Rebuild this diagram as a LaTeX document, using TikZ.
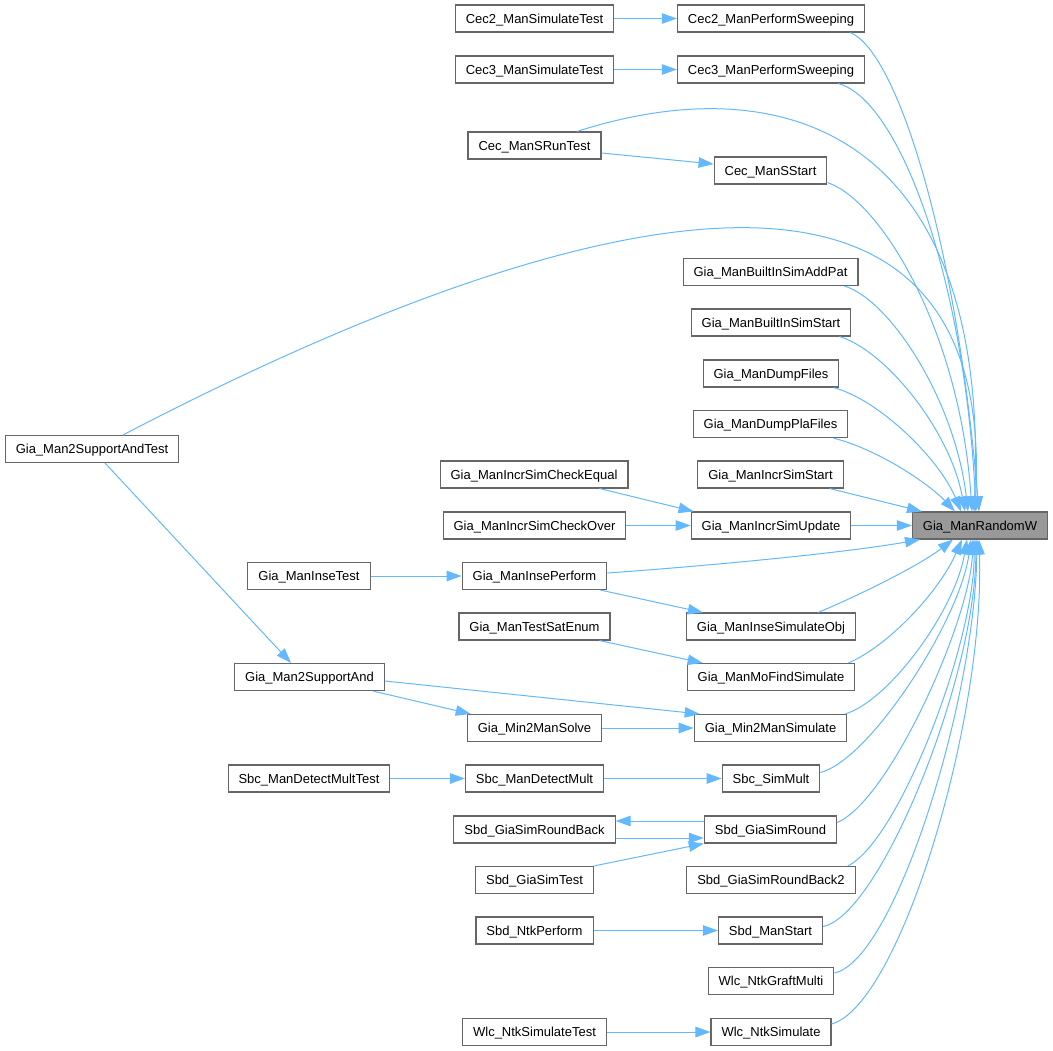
\documentclass[tikz,border=0pt]{standalone}
\usepackage{fontspec}
\setmainfont{Liberation Sans}
\usepackage{tikz}
\usetikzlibrary{arrows.meta,positioning}
\definecolor{edgeblue}{HTML}{63B8FF}
\definecolor{boxgray}{HTML}{666666}
\definecolor{rootgray}{HTML}{999999}

\begin{document}
\begin{tikzpicture}[
			x=1pt, y=-1pt,
			>={Triangle[length=15pt,width=10.5pt]},
			font=\fontsize{13}{15}\selectfont,
			func/.style={
				rectangle,
				draw=boxgray,
				line width=1.1pt,
				fill=white,
				minimum height=27pt,
				inner xsep=10.5pt,
				inner ysep=0pt,
				text height=9.4pt,
				text depth=0pt
			},
			root/.style={
				func,
				fill=rootgray
			},
			call/.style={
				draw=edgeblue,
				line width=1pt,
				->
			}
			]
			\useasboundingbox (0,0) rectangle (1053,1051);
			% the functions, column by column

			\node [root] (root) at (980,525.5) {Gia\_ManRandomW};

			\node [func] (c2sim) at (534.5,18.5) {Cec2\_ManSimulateTest};
			\node [func] (c2sweep) at (771,18.5) {Cec2\_ManPerformSweeping};
			\node [func] (c3sim) at (534.5,69.5) {Cec3\_ManSimulateTest};
			\node [func] (c3sweep) at (771,69.5) {Cec3\_ManPerformSweeping};
			\node [func] (srun) at (534.5,145.5) {Cec\_ManSRunTest};
			\node [func] (sstart) at (770.5,170.5) {Cec\_ManSStart};

			\node [func] (supptest) at (92,449) {Gia\_Man2SupportAndTest};
			\node [func] (addpat) at (770.5,272) {Gia\_ManBuiltInSimAddPat};
			\node [func] (simstart) at (771,322.5) {Gia\_ManBuiltInSimStart};
			\node [func] (dumpf) at (771,373.5) {Gia\_ManDumpFiles};
			\node [func] (dumppla) at (770.5,424) {Gia\_ManDumpPlaFiles};
			\node [func] (incrstart) at (770.5,474.5) {Gia\_ManIncrSimStart};
			\node [func] (checkeq) at (534,474.5) {Gia\_ManIncrSimCheckEqual};
			\node [func] (checkov) at (534.5,525.5) {Gia\_ManIncrSimCheckOver};
			\node [func] (incrupd) at (771,525.5) {Gia\_ManIncrSimUpdate};

			\node [func] (insetest) at (309,576) {Gia\_ManInseTest};
			\node [func] (inseperf) at (534.5,576) {Gia\_ManInsePerform};
			\node [func] (satenum) at (534.5,626.5) {Gia\_ManTestSatEnum};
			\node [func] (insesim) at (771,626.5) {Gia\_ManInseSimulateObj};
			\node [func] (suppand) at (309.5,677) {Gia\_Man2SupportAnd};
			\node [func] (mofind) at (771,677) {Gia\_ManMoFindSimulate};
			\node [func] (min2solve) at (534.5,728) {Gia\_Min2ManSolve};
			\node [func] (min2sim) at (770.5,728) {Gia\_Min2ManSimulate};

			\node [func] (dmtest) at (309,778.5) {Sbc\_ManDetectMultTest};
			\node [func] (dmult) at (534.5,778.5) {Sbc\_ManDetectMult};
			\node [func] (simmult) at (771,778.5) {Sbc\_SimMult};
			\node [func] (rback) at (534.5,829.5) {Sbd\_GiaSimRoundBack};
			\node [func] (gsround) at (770.5,829.5) {Sbd\_GiaSimRound};
			\node [func] (gstest) at (534.5,880) {Sbd\_GiaSimTest};
			\node [func] (rback2) at (771,880) {Sbd\_GiaSimRoundBack2};
			\node [func] (ntkperf) at (534.5,930.5) {Sbd\_NtkPerform};
			\node [func] (manstart) at (770.5,930.5) {Sbd\_ManStart};
			\node [func] (graft) at (771,981) {Wlc\_NtkGraftMulti};
			\node [func] (ntktest) at (534.5,1032) {Wlc\_NtkSimulateTest};
			\node [func] (ntksim) at (771,1032) {Wlc\_NtkSimulate};

			% calls above the root
			\draw [call] (c2sim) -- (c2sweep);
			\draw [call] (c3sim) -- (c3sweep);
			\draw [call] ([yshift=-7.5pt]srun.east) -- ([yshift=6.5pt]sstart.west);
			\draw [call] ([xshift=-15pt]c2sweep.south east) .. controls (895,50) and (955,230) .. ([xshift=-1pt]root.north);
			\draw [call] ([xshift=-27pt]c3sweep.south east) .. controls (900,100) and (965,280) .. ([xshift=-4pt]root.north);
			\draw [call] ([xshift=42.5pt]srun.north) .. controls (800,60) and (990,150) .. ([xshift=-6pt]root.north);
			\draw [call] ([yshift=2pt]sstart.south east) .. controls (880,200) and (960,330) .. ([xshift=-8pt]root.north);
			\draw [call] ([xshift=31pt]supptest.north) .. controls (420,280) and (1000,30) .. ([xshift=-5pt]root.north);
			\draw [call] ([xshift=-14pt]addpat.south east) .. controls (890,300) and (955,400) .. ([xshift=-12pt]root.north);
			\draw [call] ([xshift=-12pt]simstart.south east) .. controls (885,350) and (950,430) .. ([xshift=-15pt]root.north);
			\draw [call] ([xshift=-6pt]dumpf.south east) .. controls (880,400) and (940,460) .. ([xshift=-19pt]root.north);
			\draw [call] ([xshift=-15pt]dumppla.south east) .. controls (880,450) and (930,485) .. ([xshift=-25pt]root.north);
			\draw [call] ([xshift=-14pt]incrstart.south east) -- ([xshift=-58pt]root.north);

			\draw [call] ([xshift=-29pt]checkeq.south east) -- ([xshift=3pt]incrupd.north west);
			\draw [call] (checkov) -- (incrupd);
			\draw [call] (incrupd) -- (root);

			% calls below the root
			\draw [call] (insetest) -- (inseperf);
			\draw [call] ([yshift=3pt]inseperf.east) .. controls (720,565) and (850,552) .. ([xshift=-60pt]root.south);
			\draw [call] ([xshift=-7pt]inseperf.south east) -- ([xshift=17pt]insesim.north west);
			\draw [call] ([xshift=-38pt]insesim.north east) .. controls (860,595) and (920,565) .. ([xshift=-27pt]root.south);
			\draw [call] ([xshift=-11pt]satenum.south east) -- ([xshift=16pt]mofind.north west);
			\draw [call] ([xshift=-7pt]mofind.north east) .. controls (890,645) and (940,590) .. ([xshift=-18pt]root.south);

			\draw [call] ([xshift=13pt]supptest.south) -- ([xshift=-18.5pt]suppand.north);
			\draw [call] ([yshift=-4pt]suppand.east) -- ([xshift=6pt]min2sim.north west);
			\draw [call] ([xshift=-12pt]suppand.south east) -- ([xshift=4pt]min2solve.north west);
			\draw [call] (min2solve) -- (min2sim);
			\draw [call] ([xshift=-2pt]min2sim.north east) .. controls (890,700) and (955,610) .. ([xshift=-13pt]root.south);

			\draw [call] (dmtest) -- (dmult);
			\draw [call] (dmult) -- (simmult);
			\draw [call] ([yshift=6pt]simmult.east) .. controls (870,760) and (960,620) .. ([xshift=-9pt]root.south);

			\draw [call] ([yshift=8.5pt]gsround.west) -- ([yshift=8.5pt]rback.east);
			\draw [call] ([yshift=-8.5pt]rback.east) -- ([yshift=-8.5pt]gsround.west);
			\draw [call] (gstest.north east) -- (gsround.south west);
			\draw [call] ([yshift=7pt]gsround.east) .. controls (890,800) and (970,620) .. ([xshift=-7pt]root.south);
			\draw [call] ([xshift=-8pt]rback2.north east) .. controls (900,840) and (975,640) .. ([xshift=-6pt]root.south);
			\draw [call] (ntkperf) -- (manstart);
			\draw [call] ([yshift=4pt]manstart.east) .. controls (880,915) and (975,680) .. ([xshift=-4pt]root.south);

			\draw [call] ([yshift=8pt]graft.east) .. controls (895,960) and (975,700) .. ([xshift=-3pt]root.south);
			\draw [call] (ntktest) -- (ntksim);
			\draw [call] ([yshift=8pt]ntksim.east) .. controls (900,1005) and (985,720) .. ([xshift=-1pt]root.south);

\end{tikzpicture}
\end{document}
